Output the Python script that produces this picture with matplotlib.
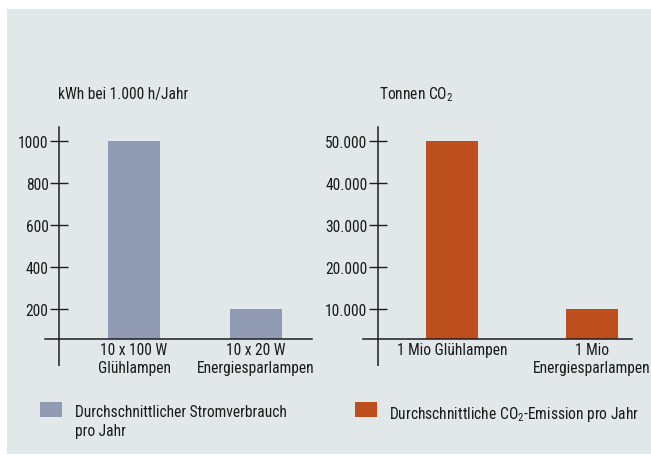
import matplotlib.pyplot as plt
from matplotlib.patches import Rectangle

plt.rcParams['font.family'] = ['Roboto Condensed', 'DejaVu Sans']
plt.rcParams['mathtext.default'] = 'regular'

# data
strom_labels = ["10 x 100 W\nGlühlampen", "10 x 20 W\nEnergiesparlampen"]
strom_values = [1000, 200]
strom_ticks = [200, 400, 600, 800, 1000]

co2_labels = ["1 Mio Glühlampen", "1 Mio\nEnergiesparlampen"]
co2_values = [50000, 10000]
co2_ticks = [10000, 20000, 30000, 40000, 50000]
co2_ticklabels = ["10.000", "20.000", "30.000", "40.000", "50.000"]

legend_left = "Durchschnittlicher Stromverbrauch\npro Jahr"
legend_right = "Durchschnittliche CO$_2$-Emission pro Jahr"

c_grey = "#919cb4"
c_orange = "#bd4e1e"
c_bg = "#e2e7ea"
c_ax = "#1e1e1e"
c_txt = "#1a1a1a"
fs = 11.2

W, H = 651, 456
fig = plt.figure(figsize=(W / 100, H / 100), dpi=100)
fig.patches.append(Rectangle((7 / W, 1 / H), 644 / W, 445 / H, transform=fig.transFigure,
                             facecolor=c_bg, edgecolor='none', zorder=-10))


def px_axes(x0, x1, y_top, y_bot):
    return fig.add_axes([x0 / W, (H - y_bot) / H, (x1 - x0) / W, (y_bot - y_top) / H])


def style(ax, xlim, ylim, yaxis_x, extend_to):
    ax.set_facecolor('none')
    ax.set_xlim(*xlim)
    ax.set_ylim(*ylim)
    for s in ['top', 'right']:
        ax.spines[s].set_visible(False)
    ax.spines['left'].set_position(('data', yaxis_x))
    ax.spines['left'].set_color(c_ax)
    ax.spines['bottom'].set_color(c_ax)
    ax.spines['left'].set_linewidth(1.1)
    ax.spines['bottom'].set_linewidth(1.1)
    # y axis runs a bit below the x axis
    ax.plot([yaxis_x, yaxis_x], [ylim[0], extend_to], color=c_ax, lw=1.1, clip_on=False,
            solid_capstyle='butt')
    ax.tick_params(axis='y', direction='inout', length=13, width=1, color=c_ax,
                   labelsize=fs, pad=1, labelcolor=c_txt)
    ax.tick_params(axis='x', length=0, labelsize=fs, pad=2, labelcolor=c_txt)


# left panel: Stromverbrauch
ax1 = px_axes(45, 312, 128, 340)
x1 = range(len(strom_values))
ax1.bar(x1, strom_values, width=0.426, color=c_grey, zorder=2)
ax1.set_xticks(list(x1))
ax1.set_xticklabels(strom_labels, linespacing=1.3)
ax1.set_yticks(strom_ticks)
style(ax1, (-0.730, 1.459), (57.1, 1066.7), -0.615, -71.5)
fig.text(58 / W, (H - 95) / H, "kWh bei 1.000 h/Jahr", fontsize=fs, va='center', ha='left',
         color=c_txt)

# right panel: CO2
ax2 = px_axes(363, 632, 128, 340)
x2 = range(len(co2_values))
ax2.bar(x2, co2_values, width=0.371, color=c_orange, zorder=2)
ax2.set_xticks(list(x2))
ax2.set_xticklabels(co2_labels, linespacing=1.3)
ax2.set_yticks(co2_ticks)
ax2.set_yticklabels(co2_ticklabels)
style(ax2, (-0.636, 1.286), (2857, 53333), -0.529, -3571)
fig.text(379 / W, (H - 95) / H, "Tonnen CO$_2$", fontsize=fs, va='center', ha='left',
         color=c_txt)

# legend
fig.patches.append(Rectangle((40 / W, (H - 418) / H), 22 / W, 15 / H, transform=fig.transFigure,
                             facecolor=c_grey, edgecolor='none'))
fig.text(75 / W, (H - 405) / H, legend_left, fontsize=fs, va='top', ha='left',
         linespacing=1.32, color=c_txt)
fig.patches.append(Rectangle((355 / W, (H - 418) / H), 22 / W, 15 / H, transform=fig.transFigure,
                             facecolor=c_orange, edgecolor='none'))
fig.text(389 / W, (H - 405) / H, legend_right, fontsize=fs, va='top', ha='left',
         color=c_txt)

fig.savefig("out.png", dpi=100)
